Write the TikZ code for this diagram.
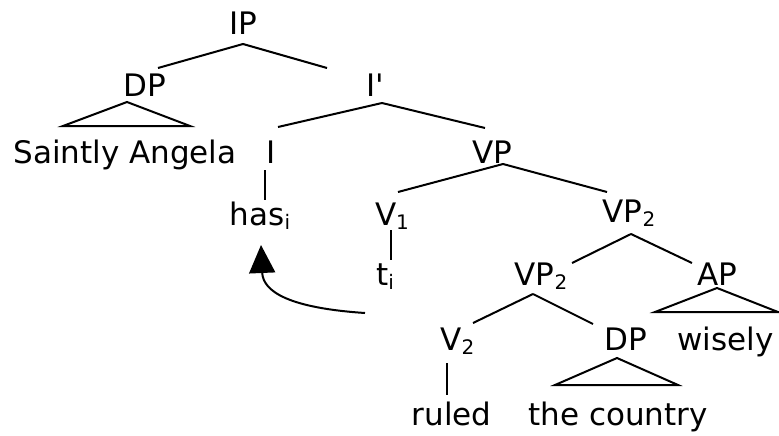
\documentclass[tikz,border=0pt]{standalone}
\usepackage{fontspec}
\setmainfont{DejaVu Sans}
\usetikzlibrary{arrows.meta,calc}
\newcommand{\lsub}[1]{\raisebox{-4pt}{\fontsize{20}{20}\selectfont #1}}
\tikzset{
  lbl/.style={anchor=base,inner sep=0pt,font=\fontsize{31}{36}\selectfont},
  edge/.style={line width=2pt},
  tri/.style={line width=2pt,line join=miter},
  mv/.style={line width=2pt,-{Triangle[length=28pt,width=26pt]}}
}
\begin{document}
\begin{tikzpicture}[x=1pt,y=-1pt]
\useasboundingbox (0,0) rectangle (779,436);
% nodes
\node[lbl] (IP) at (243,35) {IP};
\node[lbl] (DP) at (145,96) {DP};
\node[lbl] (Ib) at (375,96) {I\textquotesingle};
\node[lbl] (SA) at (125,163) {Saintly Angela};
\node[lbl] (I) at (271,163) {I};
\node[lbl] (VP) at (492,163) {VP};
\node[lbl] (has) at (260,225) {has\lsub{i}};
\node[lbl] (V1) at (392,225) {V\lsub{1}};
\node[lbl] (t) at (385,285) {t\lsub{i}};
\node[lbl] (VPu) at (629,222) {VP\lsub{2}};
\node[lbl] (VPl) at (541,285) {VP\lsub{2}};
\node[lbl] (AP) at (717,285) {AP};
\node[lbl] (V2) at (457.5,350) {V\lsub{2}};
\node[lbl] (DPl) at (626,350) {DP};
\node[lbl] (wis) at (725.5,350) {wisely};
\node[lbl] (rul) at (451.5,425) {ruled};
\node[lbl] (cou) at (618,425) {the country};
\coordinate (trace) at (365,313);
% edges
\draw[edge] ([shift={(0,9)}]IP.base) -- ([shift={(13,-28)}]DP.base);
\draw[edge] ([shift={(0,9)}]IP.base) -- ([shift={(-48,-28)}]Ib.base);
\draw[tri] ([shift={(-18,6)}]DP.base) -- ([shift={(-82,30)}]DP.base) -- ([shift={(45,30)}]DP.base) -- cycle;
\draw[edge] ([shift={(7,7)}]Ib.base) -- ([shift={(7,-36)}]I.base);
\draw[edge] ([shift={(7,7)}]Ib.base) -- ([shift={(-7,-35)}]VP.base);
\draw[edge] ([shift={(-6,7)}]I.base) -- ([shift={(5,-25)}]has.base);
\draw[edge] ([shift={(11,1)}]VP.base) -- ([shift={(6,-33)}]V1.base);
\draw[edge] ([shift={(11,1)}]VP.base) -- ([shift={(-22,-30)}]VPu.base);
\draw[edge] ([shift={(-1,5)}]V1.base) -- ([shift={(6,-25)}]t.base);
\draw[edge] ([shift={(2,12)}]VPu.base) -- ([shift={(31,-22)}]VPl.base);
\draw[edge] ([shift={(2,12)}]VPu.base) -- ([shift={(-25,-22)}]AP.base);
\draw[tri] ([shift={(0,3)}]AP.base) -- ([shift={(-62,27)}]AP.base) -- ([shift={(61,27)}]AP.base) -- cycle;
\draw[edge] ([shift={(-8,9)}]VPl.base) -- ([shift={(15.5,-27)}]V2.base);
\draw[edge] ([shift={(-8,9)}]VPl.base) -- ([shift={(-33,-26)}]DPl.base);
\draw[tri] ([shift={(-9,8)}]DPl.base) -- ([shift={(-71,35)}]DPl.base) -- ([shift={(52,35)}]DPl.base) -- cycle;
\draw[edge] ([shift={(-10.5,13)}]V2.base) -- ([shift={(-4.5,-30)}]rul.base);
% movement arrow
\draw[mv] (trace) .. controls (290,308) and (263,292) .. ([shift={(1,20)}]has.base);
\end{tikzpicture}
\end{document}
